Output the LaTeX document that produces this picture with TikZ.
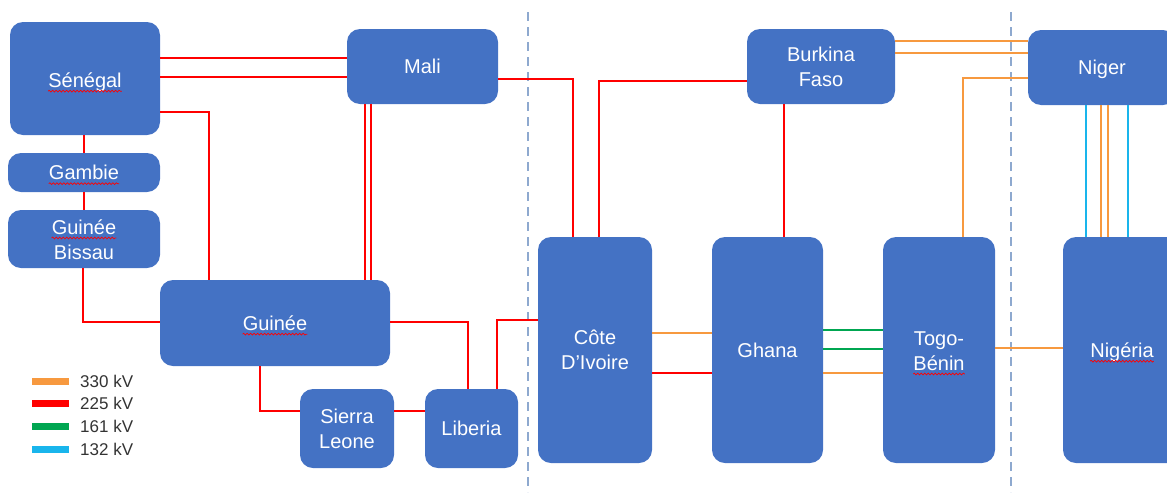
\documentclass[tikz,border=0pt]{standalone}
\usepackage{fontspec}
\setmainfont{Liberation Sans}
\usetikzlibrary{calc,decorations.pathmorphing}

\definecolor{boxblue}{HTML}{4472C4}
\definecolor{kvA}{HTML}{F7993F}% 330 kV
\definecolor{kvB}{HTML}{FF0000}% 225 kV
\definecolor{kvC}{HTML}{00A651}% 161 kV
\definecolor{kvD}{HTML}{19B5EC}% 132 kV
\definecolor{zoneline}{HTML}{8EA9CF}
\definecolor{legendtext}{HTML}{333333}

\begin{document}
\begin{tikzpicture}[x=1pt,y=-1pt,
  country/.style={fill=boxblue, rounded corners=13pt, text=white,
    font=\fontsize{20}{25}\selectfont, align=center, inner sep=0pt},
  oneline/.style={text height=14.3pt, text depth=0pt},
  word/.style={text=white, font=\fontsize{20}{25}\selectfont, inner sep=0pt},
  spell/.style={draw=red, line width=0.7pt, decorate,
    decoration={snake, amplitude=0.9pt, segment length=3.5pt}},
  kv330/.style={draw=kvA, line width=2.4pt},
  kv225/.style={draw=kvB, line width=2.4pt},
  kv161/.style={draw=kvC, line width=2.4pt},
  kv132/.style={draw=kvD, line width=2.4pt},
  zone/.style={draw=zoneline, line width=2pt, dash pattern=on 9pt off 6pt},
  legbar/.style={line width=7pt},
  legtxt/.style={anchor=west, inner sep=0pt, text=legendtext,
    font=\fontsize{17}{20}\selectfont}]

\useasboundingbox (0,0) rectangle (1167,496);
\clip (0,0) rectangle (1167,496);

% zone separators
\coordinate (zaT) at (528,12);  \coordinate (zaB) at (528,492);
\coordinate (zbT) at (1011,12); \coordinate (zbB) at (1011,492);
\draw[zone] (zaT) -- (zaB);
\draw[zone] (zbT) -- (zbB);

% countries
\node[country, minimum width=150pt, minimum height=113pt] (sen) at (85,78.5) {};
\node[country, minimum width=152pt, minimum height=39pt]  (gam) at (84,172.5) {};
\node[country, minimum width=152pt, minimum height=58pt]  (gbi) at (84,239) {};
\node[country, minimum width=230pt, minimum height=86pt]  (gui) at (275,323) {};
\node[country, minimum width=94pt,  minimum height=79pt]  (sl)  at (347,428.5) {Sierra\\Leone};
\node[country, oneline, minimum width=93pt,  minimum height=79pt]  (lib) at (471.5,428.5) {Liberia};
\node[country, oneline, minimum width=151pt, minimum height=75pt]  (mali) at (422.5,66.5) {Mali};
\node[country, minimum width=114pt, minimum height=226pt] (cdi) at (595,350) {Côte\\D'Ivoire};
\node[country, oneline, minimum width=111pt, minimum height=226pt] (gha) at (767.5,350) {Ghana};
\node[country, minimum width=112pt, minimum height=226pt] (tb)  at (939,350) {};
\node[country, minimum width=118pt, minimum height=226pt] (nga) at (1122,350) {};
\node[country, minimum width=148pt, minimum height=75pt]  (bf)  at (821,66.5) {Burkina\\Faso};
\node[country, oneline, minimum width=148pt, minimum height=75pt]  (nig) at (1102,67.5) {Niger};

% names carrying a spelling mark
\node[word, oneline] (senT) at (85,80) {Sénégal};
\node[word, oneline] (gamT) at (gam) {Gambie};
\node[word, anchor=base] (gbiT) at ($(gbi.center)+(0,-5)$) {Guinée};
\node[word, anchor=base] (gbiB) at ($(gbi.center)+(0,20)$) {Bissau};
\node[word, oneline] (guiT) at (gui) {Guinée};
\node[word, anchor=base] (tbA) at ($(tb.center)+(0,-5)$) {Togo-};
\node[word, anchor=base] (tbB) at ($(tb.center)+(0,20)$) {Bénin};
\node[word, oneline] (ngaT) at (nga) {Nigéria};
\foreach \w in {senT,gamT,gbiT,guiT,tbB,ngaT}
  \draw[spell] ([yshift=-4pt]\w.base west) -- ([yshift=-4pt]\w.base east);

% 225 kV links
\draw[kv225] (sen.east |- 0,58) -- (mali.west |- 0,58);
\draw[kv225] (sen.east |- 0,77) -- (mali.west |- 0,77);
\draw[kv225] (sen.east |- 0,112) -| (209,0 |- gui.north);
\draw[kv225] (sen.south -| 84,0) -- (gam.north -| 84,0);
\draw[kv225] (gam.south -| 84,0) -- (gbi.north -| 84,0);
\draw[kv225] (gbi.south -| 83,0) |- (gui.west |- 0,322);
\draw[kv225] (mali.south -| 365,0) -- (gui.north -| 365,0);
\draw[kv225] (mali.south -| 371,0) -- (gui.north -| 371,0);
\draw[kv225] (gui.east |- 0,322) -| (468,0 |- lib.north);
\draw[kv225] (gui.south -| 260,0) |- (sl.west |- 0,411);
\draw[kv225] (sl.east |- 0,411) -- (lib.west |- 0,411);
\draw[kv225] (lib.north -| 497,0) |- (cdi.west |- 0,320);
\draw[kv225] (mali.east |- 0,79) -| (573,0 |- cdi.north);
\draw[kv225] (bf.west |- 0,81) -| (599,0 |- cdi.north);
\draw[kv225] (bf.south -| 784,0) -- (gha.north -| 784,0);
\draw[kv225] (cdi.east |- 0,373) -- (gha.west |- 0,373);

% 330 kV links
\draw[kv330] (cdi.east |- 0,333) -- (gha.west |- 0,333);
\draw[kv330] (gha.east |- 0,373) -- (tb.west |- 0,373);
\draw[kv330] (bf.east |- 0,41) -- (nig.west |- 0,41);
\draw[kv330] (bf.east |- 0,53) -- (nig.west |- 0,53);
\draw[kv330] (nig.west |- 0,78) -| (963,0 |- tb.north);
\draw[kv330] (tb.east |- 0,348) -- (nga.west |- 0,348);
\draw[kv330] (nig.south -| 1101,0) -- (nga.north -| 1101,0);
\draw[kv330] (nig.south -| 1108,0) -- (nga.north -| 1108,0);

% 161 kV links
\draw[kv161] (gha.east |- 0,330) -- (tb.west |- 0,330);
\draw[kv161] (gha.east |- 0,349) -- (tb.west |- 0,349);

% 132 kV links
\draw[kv132] (nig.south -| 1086,0) -- (nga.north -| 1086,0);
\draw[kv132] (nig.south -| 1128,0) -- (nga.north -| 1128,0);

% legend
\node[legtxt] (l330) at (80,381) {330 kV};
\node[legtxt] (l225) at (80,403) {225 kV};
\node[legtxt] (l161) at (80,426) {161 kV};
\node[legtxt] (l132) at (80,449) {132 kV};
\draw[legbar, kvA] (32,0 |- l330.west) -- (69,0 |- l330.west);
\draw[legbar, kvB] (32,0 |- l225.west) -- (69,0 |- l225.west);
\draw[legbar, kvC] (32,0 |- l161.west) -- (69,0 |- l161.west);
\draw[legbar, kvD] (32,0 |- l132.west) -- (69,0 |- l132.west);
\end{tikzpicture}
\end{document}
